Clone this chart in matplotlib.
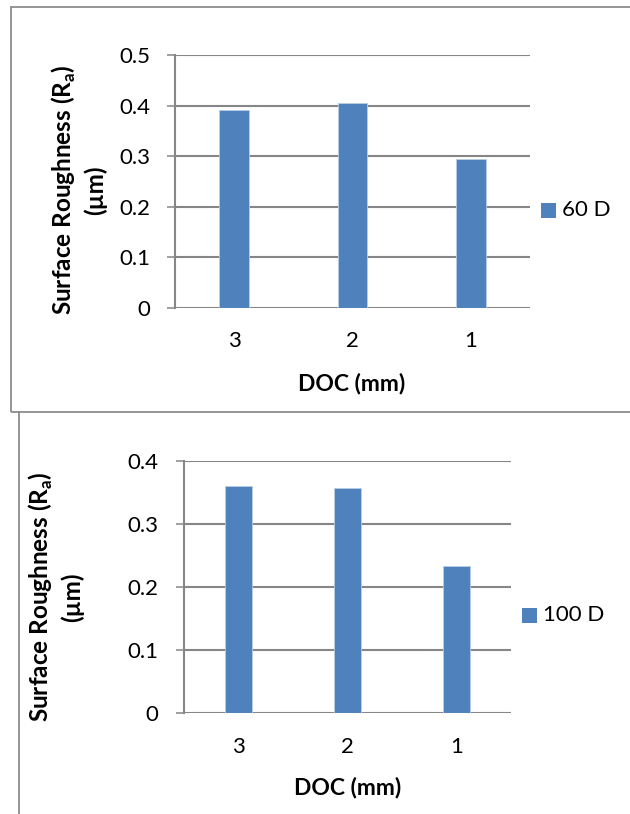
import matplotlib
matplotlib.use("Agg")
import matplotlib.pyplot as plt
from matplotlib.patches import Rectangle
from matplotlib.lines import Line2D

plt.rcParams['font.family'] = ['Lato', 'DejaVu Sans']
plt.rcParams['mathtext.fontset'] = 'custom'
plt.rcParams['mathtext.rm'] = 'Lato'
plt.rcParams['mathtext.bf'] = 'Lato:bold'

categories = ["3", "2", "1"]
values_60 = [0.392, 0.405, 0.294]
values_100 = [0.360, 0.357, 0.234]
series_names = ["60 D", "100 D"]
ylims = [0.5, 0.4]
yticks_60 = [0, 0.1, 0.2, 0.3, 0.4, 0.5]
yticks_100 = [0, 0.1, 0.2, 0.3, 0.4]

W, H = 630, 814
BAR = "#4F81BD"
GRID = "#868686"
BORDER = "#8C8C8C"
TICK_FS = 16
LAB_FS = 16.5
YLAB_FS = 17.5

fig = plt.figure(figsize=(W / 100, H / 100), dpi=100)


def px_axes(x0, x1, ytop, ybot):
    return fig.add_axes([x0 / W, 1 - ybot / H, (x1 - x0) / W, (ybot - ytop) / H])


# panel borders
fig.add_artist(Rectangle((11 / W, 1 - 412 / H), (640 - 11) / W, (412 - 7) / H,
                         transform=fig.transFigure, fill=False, edgecolor=BORDER,
                         linewidth=1.3, clip_on=False))
fig.add_artist(Line2D([19 / W, 19 / W], [1 - 412 / H, 0], transform=fig.transFigure,
                      color=BORDER, linewidth=1.3))

panels = [
    dict(vals=values_60, name=series_names[0], ymax=ylims[0], ticks=yticks_60,
         box=(175, 530, 55, 307.7), lab1x=64, lab2x=95, labcy=190,
         legx=541, legy=210, xlab=(352, 383)),
    dict(vals=values_100, name=series_names[1], ymax=ylims[1], ticks=yticks_100,
         box=(183.6, 511, 460.7, 713.3), lab1x=41, lab2x=72, labcy=597,
         legx=522, legy=615, xlab=(347.5, 788)),
]

for p in panels:
    x0, x1, yt, yb = p['box']
    ax = px_axes(x0, x1, yt, yb)
    xs = range(len(categories))
    ax.bar(xs, p['vals'], width=0.25, color=BAR, edgecolor="#B9CDE5",
           linewidth=0.6, zorder=3)
    ax.set_xlim(-0.5, len(categories) - 0.5)
    ax.set_ylim(0, p['ymax'])
    ax.set_yticks(p['ticks'])
    ax.set_yticklabels([("%g" % t) for t in p['ticks']])
    ax.set_xticks(list(xs))
    ax.set_xticklabels(categories)
    ax.yaxis.grid(True, color=GRID, linewidth=1.5, zorder=0)
    ax.set_axisbelow(True)
    for s in ['top', 'right', 'bottom']:
        ax.spines[s].set_visible(False)
    ax.spines['left'].set_color(GRID)
    ax.spines['left'].set_linewidth(1.5)
    ax.tick_params(axis='y', length=6, width=1.1, color=GRID, pad=12,
                   labelsize=TICK_FS, labelcolor="black")
    ax.tick_params(axis='x', length=0, pad=17, labelsize=TICK_FS, labelcolor="black")
    # axis titles
    fig.text(p['lab1x'] / W, 1 - p['labcy'] / H, r"Surface Roughness (R$_\mathbf{a}$)",
             rotation=90, ha='center', va='center', fontsize=YLAB_FS, fontweight='bold')
    fig.text(p['lab2x'] / W, 1 - p['labcy'] / H, "(µm)",
             rotation=90, ha='center', va='center', fontsize=YLAB_FS, fontweight='bold')
    fig.text(p['xlab'][0] / W, 1 - p['xlab'][1] / H, "DOC (mm)",
             ha='center', va='center', fontsize=LAB_FS, fontweight='bold')
    # legend
    lx, ly = p['legx'], p['legy']
    fig.add_artist(Rectangle((lx / W, 1 - (ly + 7.5) / H), 15 / W, 15 / H,
                             transform=fig.transFigure, facecolor=BAR,
                             edgecolor='none'))
    fig.text((lx + 21) / W, 1 - ly / H, p['name'], ha='left', va='center',
             fontsize=TICK_FS)

fig.savefig("out.png", dpi=100)
